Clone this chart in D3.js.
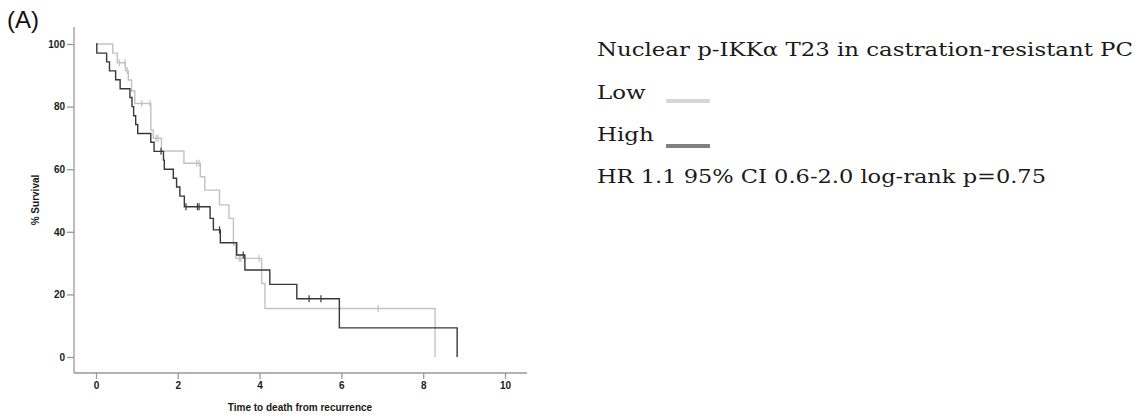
<!DOCTYPE html>
<html>
<head>
<meta charset="utf-8">
<script src="https://cdn.jsdelivr.net/npm/d3@7"></script>
<style>
  body { margin: 0; background: #fff; }
  svg { display: block; }
</style>
</head>
<body>
<div id="chart"></div>
<script>
// survival data (% survival over time from recurrence)
const lowTimes = [0, 0.41, 0.52, 0.72, 0.79, 0.87, 0.95, 1.34, 1.40, 1.60, 2.15, 2.55, 2.66, 3.02, 3.25, 3.36, 3.42, 4.05, 4.13, 8.29];
const lowSurv = [100, 97.1, 94.0, 91.5, 88.5, 85.0, 81.0, 72.5, 69.9, 65.8, 61.9, 57.6, 53.3, 48.6, 44.3, 35.8, 31.5, 23.5, 15.5, 0];
const lowCensor = [0.57, 0.71, 0.76, 1.12, 1.32, 1.47, 1.52, 2.46, 2.52, 3.50, 3.54, 3.99, 6.90];

const highTimes = [0, 0.02, 0.26, 0.33, 0.48, 0.59, 0.83, 0.88, 0.92, 0.97, 1.02, 1.34, 1.42, 1.65, 1.67, 1.89, 1.97, 2.05, 2.16, 2.79, 2.87, 3.04, 3.44, 3.64, 4.25, 4.91, 5.95, 8.83];
const highSurv = [100, 97.1, 94.3, 91.4, 88.6, 85.7, 82.9, 80.0, 77.1, 74.3, 71.4, 68.6, 65.7, 62.9, 60.0, 57.1, 54.3, 51.4, 48.0, 44.3, 40.6, 36.5, 32.6, 27.8, 23.2, 18.6, 9.3, 0];
const highCensor = [1.59, 2.20, 2.48, 2.52, 3.02, 3.60, 5.21, 5.50];

const xTicks = [0, 2, 4, 6, 8, 10];
const yTicks = [0, 20, 40, 60, 80, 100];

const legendLabels = ["Low", "High"];
const titleText = "Nuclear p-IKK\u03b1 T23 in castration-resistant PC";
const statText = "HR 1.1 95% CI 0.6-2.0 log-rank p=0.75";

const width = 1140, height = 418;

const svg = d3.select("#chart").append("svg")
  .attr("width", width)
  .attr("height", height);

const x = d3.scaleLinear().domain([0, 10]).range([96, 505]);
const y = d3.scaleLinear().domain([0, 100]).range([357, 44]);

const axisColor = "#999";
const tickFont = "'Liberation Sans', Arial, sans-serif";

// y axis
const gy = svg.append("g").attr("transform", "translate(74,0)")
  .call(d3.axisLeft(y).tickValues(yTicks).tickSize(7).tickSizeOuter(0));
gy.select(".domain").remove();
gy.selectAll(".tick line").attr("stroke", axisColor).attr("stroke-width", 1.3);
gy.selectAll(".tick text")
  .attr("font-family", tickFont).attr("font-weight", "bold")
  .attr("font-size", "10px").attr("fill", "#1a1a1a").attr("x", -9);

// x axis
const gx = svg.append("g").attr("transform", "translate(0,373)")
  .call(d3.axisBottom(x).tickValues(xTicks).tickSize(6).tickSizeOuter(0));
gx.select(".domain").remove();
gx.selectAll(".tick line").attr("stroke", axisColor).attr("stroke-width", 1.3);
gx.selectAll(".tick text")
  .attr("font-family", tickFont).attr("font-weight", "bold")
  .attr("font-size", "10px").attr("fill", "#1a1a1a").attr("y", 9);

// axis lines (frame extends past the data range)
svg.append("line").attr("x1", 74).attr("x2", 74).attr("y1", 27).attr("y2", 373)
  .attr("stroke", axisColor).attr("stroke-width", 1.3);
svg.append("line").attr("x1", 74).attr("x2", 527).attr("y1", 373).attr("y2", 373)
  .attr("stroke", axisColor).attr("stroke-width", 1.3);

// axis titles
svg.append("text")
  .attr("transform", "translate(39,200) rotate(-90)")
  .attr("text-anchor", "middle")
  .attr("font-family", tickFont).attr("font-weight", "bold")
  .attr("font-size", "10px").attr("fill", "#1a1a1a")
  .text("% Survival");

svg.append("text")
  .attr("x", 300).attr("y", 411)
  .attr("text-anchor", "middle")
  .attr("font-family", tickFont).attr("font-weight", "bold")
  .attr("font-size", "10px").attr("fill", "#1a1a1a")
  .text("Time to death from recurrence");

// panel letter
svg.append("text")
  .attr("x", 7).attr("y", 28)
  .attr("font-family", tickFont)
  .attr("font-size", "24px").attr("fill", "#111")
  .text("(A)");

// curves
const line = d3.line()
  .x(d => x(d[0]))
  .y(d => y(d[1]))
  .curve(d3.curveStepAfter);

function survAt(times, surv, t) {
  const i = d3.bisectRight(times, t) - 1;
  return surv[Math.max(0, i)];
}

const groups = [
  { times: lowTimes, surv: lowSurv, censor: lowCensor, color: "#c2c2c2" },
  { times: highTimes, surv: highSurv, censor: highCensor, color: "#383838" }
];

groups.forEach(g => {
  const pts = g.times.map((t, i) => [t, g.surv[i]]);
  svg.append("path")
    .attr("d", line(pts))
    .attr("fill", "none")
    .attr("stroke", g.color)
    .attr("stroke-width", 1.4);

  svg.selectAll(null)
    .data(g.censor)
    .enter().append("line")
    .attr("x1", d => x(d)).attr("x2", d => x(d))
    .attr("y1", d => y(survAt(g.times, g.surv, d)) - 3.5)
    .attr("y2", d => y(survAt(g.times, g.surv, d)) + 3.5)
    .attr("stroke", g.color)
    .attr("stroke-width", 1.2);
});

// legend / annotation text, stretched horizontally like the wide typewriter face
const serif = "'DejaVu Serif', serif";
const textX = 597;
const fs = "18px";

function addText(str, yPos) {
  return svg.append("text")
    .attr("x", textX).attr("y", yPos)
    .attr("font-family", serif).attr("font-size", fs).attr("fill", "#1a1a1a")
    .text(str);
}

const t1 = addText(titleText, 56);
const stretch = 536 / t1.node().getComputedTextLength();
t1.attr("textLength", 536).attr("lengthAdjust", "spacingAndGlyphs");

const legendY = [99, 141];
const swatchColors = ["#d6d6d6", "#808080"];
const swatchY = [101, 146];

legendLabels.forEach((lab, i) => {
  const t = addText(lab, legendY[i]);
  t.attr("textLength", t.node().getComputedTextLength() * stretch)
    .attr("lengthAdjust", "spacingAndGlyphs");
  svg.append("line")
    .attr("x1", 666).attr("x2", 710)
    .attr("y1", swatchY[i]).attr("y2", swatchY[i])
    .attr("stroke", swatchColors[i]).attr("stroke-width", 4);
});

const t2 = addText(statText, 183);
t2.attr("textLength", 449).attr("lengthAdjust", "spacingAndGlyphs");
</script>
</body>
</html>
